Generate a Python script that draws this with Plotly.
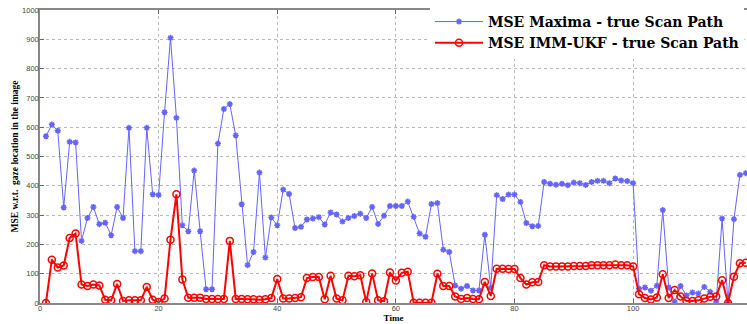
import plotly.graph_objects as go

# Time steps and per-step mean squared errors of the gaze location estimates
time = list(range(1, 120))

mse_maxima = [
    569, 609, 588, 326, 550, 548, 212, 290, 328, 269,
    274, 231, 328, 290, 598, 177, 177, 598, 371, 369,
    651, 905, 632, 265, 245, 452, 245, 47, 47, 544,
    662, 679, 572, 337, 129, 174, 445, 155, 292, 265,
    387, 372, 256, 260, 285, 288, 293, 268, 309, 302,
    278, 290, 297, 305, 290, 328, 270, 298, 331, 331,
    331, 346, 294, 237, 226, 338, 341, 182, 174, 60,
    49, 58, 43, 43, 233, 52, 368, 355, 370, 370,
    345, 273, 262, 263, 413, 407, 404, 407, 402, 411,
    409, 403, 413, 417, 417, 409, 425, 418, 416, 409,
    49, 53, 42, 59, 317, 53, 3, 58, 26, 36,
    32, 55, 38, 3, 288, 1, 286, 437, 443,
]

mse_imm_ukf = [
    0, 148, 121, 128, 222, 237, 63, 58, 63, 60,
    11, 9, 65, 7, 9, 9, 9, 55, 11, 3,
    15, 216, 371, 80, 18, 18, 18, 14, 14, 14,
    14, 212, 14, 14, 13, 13, 11, 13, 17, 82,
    15, 15, 17, 20, 85, 89, 89, 13, 93, 15,
    9, 93, 91, 95, 3, 101, 9, 6, 104, 77,
    103, 107, 1, 1, 1, 1, 100, 58, 58, 22,
    14, 17, 14, 13, 72, 24, 117, 117, 116, 116,
    85, 63, 71, 72, 129, 125, 125, 125, 125, 126,
    126, 126, 129, 129, 129, 129, 131, 129, 129, 125,
    30, 17, 12, 19, 98, 17, 44, 22, 7, 7,
    9, 15, 21, 22, 78, 0, 90, 136, 137,
]

x_ticks = [0, 20, 40, 60, 80, 100, 120]
y_ticks = [0, 100, 200, 300, 400, 500, 600, 700, 800, 900, 1000]

serif_bold = "Liberation Serif"
tick_font = dict(family="Liberation Sans", size=7.5, color="#444444")

fig = go.Figure()

fig.add_trace(go.Scatter(
    x=time, y=mse_maxima, mode="lines+markers",
    name="MSE Maxima - true Scan Path",
    line=dict(color="#6464ff", width=1),
    marker=dict(symbol="asterisk-open", size=5,
                line=dict(color="#1a1aff", width=1.5)),
))

fig.add_trace(go.Scatter(
    x=time, y=mse_imm_ukf, mode="lines+markers",
    name="MSE IMM-UKF - true Scan Path",
    line=dict(color="#ff0000", width=2),
    marker=dict(symbol="circle-open", size=7, color="#ff0000",
                line=dict(color="#ff0000", width=1.5)),
))

grid_style = dict(showgrid=True, gridcolor="#b8b8b8", griddash="dot", gridwidth=1)

fig.update_layout(
    width=747, height=324,
    margin=dict(l=40, r=0, t=10, b=21),
    paper_bgcolor="white", plot_bgcolor="white",
    showlegend=True,
    legend=dict(
        x=0.5516, y=1.0137, xanchor="left", yanchor="top",
        bgcolor="white", borderwidth=0,
        font=dict(family="DejaVu Serif", size=14, color="black", weight="bold"),
        tracegroupgap=0, itemwidth=48,
    ),
    xaxis=dict(
        range=[0, 119.2], tickvals=x_ticks, ticks="inside", ticklen=4,
        tickcolor="#666666", showline=True, linecolor="#888888", linewidth=1.5,
        mirror="ticks", tickfont=tick_font, zeroline=False, ticklabelstandoff=-3,
        title=dict(text="<b>Time</b>", font=dict(family=serif_bold, size=9, color="black"),
                   standoff=0),
        **grid_style,
    ),
    yaxis=dict(
        range=[0, 1000], tickvals=y_ticks, ticks="inside", ticklen=4,
        tickcolor="#666666", showline=True, linecolor="#888888", linewidth=1.5,
        tickfont=tick_font, zeroline=False, ticklabelstandoff=-2,
        title=dict(text="<b>MSE w.r.t.  gaze location in the image</b>",
                   font=dict(family=serif_bold, size=9.5, color="black"), standoff=2),
        **grid_style,
    ),
)

fig.write_html("out.html")
